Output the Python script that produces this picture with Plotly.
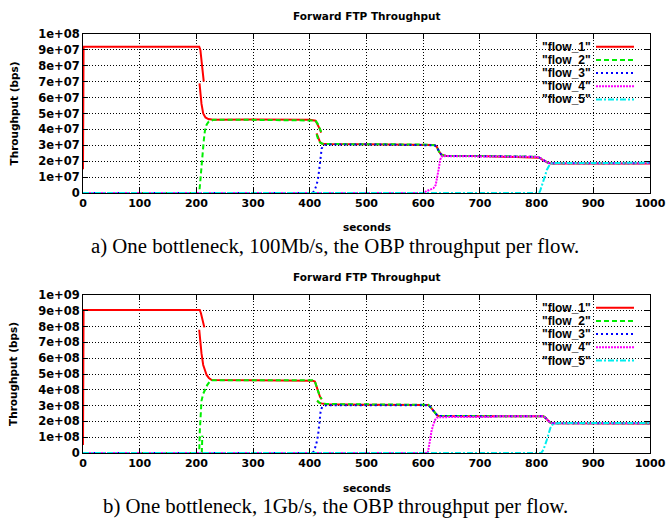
import plotly.graph_objects as go

W, H = 666, 519

# ---------------- data: (a) 100Mb/s ----------------
T1A = [0, 1, 100, 205, 207, 209, 211, 213, None, 205.5, 207, 209, 212, 216, 221, 230, 300, 400, 410, 414, 418, 420, None, 412, 415, 418, 422, 430, 500, 600, 620, 624, 628, 632, 636, 640, 700, 800, 805, 810, 815, 820, 825, 900, 960, 980, 1000]
V1A = [1.5e7, 9.2e7, 9.2e7, 9.2e7, 9.0e7, 8.2e7, 7.5e7, 7.0e7, None, 6.9e7, 6.2e7, 5.6e7, 5.0e7, 4.75e7, 4.65e7, 4.6e7, 4.62e7, 4.6e7, 4.55e7, 4.3e7, 4.0e7, 3.8e7, None, 3.75e7, 3.4e7, 3.2e7, 3.1e7, 3.08e7, 3.07e7, 3.05e7, 3.02e7, 2.9e7, 2.6e7, 2.42e7, 2.35e7, 2.33e7, 2.32e7, 2.27e7, 2.22e7, 2.1e7, 2.0e7, 1.9e7, 1.86e7, 1.85e7, 1.84e7, 1.82e7, 1.86e7]
T2A = [0, 205, 207, 209, 211, 213, 215, 218, 222, 230, 300, 400, 410, 414, 418, 420, None, 412, 415, 418, 422, 430, 500, 600, 620, 624, 628, 632, 636, 640, 700, 800, 805, 810, 815, 820, 825, 900, 1000]
V2A = [0, 0, 0.8e7, 1.8e7, 2.6e7, 3.3e7, 3.9e7, 4.3e7, 4.5e7, 4.6e7, 4.6e7, 4.6e7, 4.56e7, 4.35e7, 4.0e7, 3.85e7, None, 3.7e7, 3.35e7, 3.18e7, 3.1e7, 3.08e7, 3.08e7, 3.05e7, 3.0e7, 2.9e7, 2.6e7, 2.42e7, 2.35e7, 2.33e7, 2.33e7, 2.28e7, 2.22e7, 2.1e7, 2.0e7, 1.9e7, 1.87e7, 1.88e7, 1.88e7]
T3A = [0, 405, 408, 412, 415, 417, 419, 421, 425, 430, 500, 600, 620, 624, 628, 632, 636, 640, 700, 800, 805, 810, 815, 820, 825, 900, 1000]
V3A = [0, 0, 0.15e7, 0.5e7, 1.0e7, 1.6e7, 2.4e7, 2.8e7, 3.0e7, 3.05e7, 3.06e7, 3.04e7, 3.0e7, 2.9e7, 2.6e7, 2.42e7, 2.35e7, 2.33e7, 2.32e7, 2.28e7, 2.22e7, 2.1e7, 2.0e7, 1.9e7, 1.87e7, 1.87e7, 1.88e7]
T4A = [0, 600, 606, 612, 618, 622, 624, 627, 630, 633, 640, 700, 800, 805, 810, 815, 820, 825, 900, 1000]
V4A = [0, 0, 0.12e7, 0.2e7, 0.3e7, 0.5e7, 0.8e7, 1.45e7, 2.1e7, 2.3e7, 2.32e7, 2.3e7, 2.27e7, 2.22e7, 2.1e7, 2.0e7, 1.9e7, 1.87e7, 1.86e7, 1.87e7]
T5A = [0, 804, 806, 809, 812, 815, 818, 821, 824, 830, 900, 1000]
V5A = [0, 0, 0.1e7, 0.4e7, 0.8e7, 1.1e7, 1.45e7, 1.7e7, 1.85e7, 1.88e7, 1.88e7, 1.9e7]

# ---------------- data: (b) 1Gb/s ----------------
T1B = [0, 1, 100, 206, 208, 210, 212, 214, None, 205, 207, 209, 212, 215, 218, 222, 227, 300, 405, 409, 412, 415, 418, 421, None, 413, 416, 420, 424, 430, 500, 609, 613, 617, 621, 625, 628, 700, 800, 812, 815, 818, 821, 824, 827, 900, 1000]
V1B = [0.5e8, 9.05e8, 9.05e8, 9.05e8, 8.85e8, 8.5e8, 8.2e8, 7.95e8, None, 7.8e8, 7.0e8, 6.3e8, 5.57e8, 5.2e8, 4.94e8, 4.75e8, 4.62e8, 4.6e8, 4.58e8, 4.52e8, 4.2e8, 3.8e8, 3.55e8, 3.4e8, None, 3.3e8, 3.2e8, 3.14e8, 3.1e8, 3.08e8, 3.06e8, 3.04e8, 2.9e8, 2.7e8, 2.5e8, 2.37e8, 2.34e8, 2.34e8, 2.33e8, 2.32e8, 2.25e8, 2.12e8, 2.0e8, 1.92e8, 1.88e8, 1.87e8, 1.87e8]
T2B = [0, 205, 206, 209, 212, 215, 219, 223, 227, 300, 405, 409, 412, 415, 418, 421, None, 413, 416, 420, 424, 430, 500, 609, 613, 617, 621, 625, 628, 700, 800, 812, 815, 818, 821, 824, 827, 900, 1000, None, 209.5, 210.5]
V2B = [0, 0, 1.4e8, 3.3e8, 3.75e8, 4.0e8, 4.3e8, 4.5e8, 4.6e8, 4.6e8, 4.6e8, 4.53e8, 4.22e8, 3.82e8, 3.55e8, 3.42e8, None, 3.32e8, 3.2e8, 3.13e8, 3.1e8, 3.1e8, 3.08e8, 3.05e8, 2.9e8, 2.7e8, 2.5e8, 2.37e8, 2.34e8, 2.34e8, 2.33e8, 2.32e8, 2.25e8, 2.12e8, 2.0e8, 1.92e8, 1.88e8, 1.88e8, 1.88e8, None, 0, 1.1e8]
T3B = [0, 405, 408, 413, 415, 416, 418, 419, 421, 424, 430, 500, 609, 613, 617, 621, 625, 628, 700, 800, 812, 815, 818, 821, 824, 827, 900, 1000]
V3B = [0, 0, 0.15e8, 0.8e8, 1.25e8, 1.6e8, 2.2e8, 2.6e8, 2.85e8, 2.97e8, 3.03e8, 3.04e8, 3.03e8, 2.9e8, 2.7e8, 2.5e8, 2.37e8, 2.34e8, 2.34e8, 2.33e8, 2.32e8, 2.25e8, 2.12e8, 2.0e8, 1.92e8, 1.88e8, 1.88e8, 1.88e8]
T4B = [0, 608, 611, 615, 618, 621, 624, 627, 640, 720, 730, 800, 812, 815, 818, 821, 824, 827, 900, 1000]
V4B = [0, 0, 0.6e8, 1.46e8, 1.8e8, 2.1e8, 2.22e8, 2.27e8, 2.27e8, 2.28e8, 2.33e8, 2.33e8, 2.32e8, 2.25e8, 2.12e8, 2.0e8, 1.92e8, 1.88e8, 1.87e8, 1.88e8]
T5B = [0, 808, 812, 815, 818, 821, 824, 827, 830, 840, 900, 1000]
V5B = [0, 0, 0.2e8, 0.45e8, 0.82e8, 1.2e8, 1.56e8, 1.75e8, 1.85e8, 1.9e8, 1.9e8, 1.9e8]

FLOW_NAMES = ['"flow_1"', '"flow_2"', '"flow_3"', '"flow_4"', '"flow_5"']
X_TICKS = [0, 100, 200, 300, 400, 500, 600, 700, 800, 900, 1000]
Y_TICKS_A = [0, 1e7, 2e7, 3e7, 4e7, 5e7, 6e7, 7e7, 8e7, 9e7, 1e8]
Y_LABELS_A = ["0", "1e+07", "2e+07", "3e+07", "4e+07", "5e+07", "6e+07", "7e+07", "8e+07", "9e+07", "1e+08"]
Y_TICKS_B = [0, 1e8, 2e8, 3e8, 4e8, 5e8, 6e8, 7e8, 8e8, 9e8, 1e9]
Y_LABELS_B = ["0", "1e+08", "2e+08", "3e+08", "4e+08", "5e+08", "6e+08", "7e+08", "8e+08", "9e+08", "1e+09"]
TITLE = "Forward FTP Throughput"
X_TITLE = "seconds"
Y_TITLE = "Throughput (bps)"
CAPTION_A = "a) One bottleneck, 100Mb/s, the OBP throughput per flow."
CAPTION_B = "b) One bottleneck, 1Gb/s, the OBP throughput per flow."

# ---------------- styles ----------------
COLORS = ["#ff0000", "#00ee00", "#0000ff", "#ff00ff", "#00eeee"]
DASHES = ["solid", "5px,3px", "2px,3px", "2px,1px", "6px,2px,2px,2px"]
LW = 2
YFONT = dict(family="DejaVu Sans", size=11.5, color="black", weight="bold")
XFONT = dict(family="DejaVu Sans", size=11, color="black", weight="bold")


def px(x):
    return x / W


def py(y):
    return 1 - y / H


fig = go.Figure()

series_a = [(T1A, V1A), (T2A, V2A), (T3A, V3A), (T4A, V4A), (T5A, V5A)]
series_b = [(T1B, V1B), (T2B, V2B), (T3B, V3B), (T4B, V4B), (T5B, V5B)]
for sub, series in (("", series_a), ("2", series_b)):
    for i, (t, v) in enumerate(series):
        fig.add_trace(go.Scatter(
            x=t, y=v, mode="lines", name=FLOW_NAMES[i], showlegend=False,
            line=dict(color=COLORS[i], width=LW, dash=DASHES[i]),
            xaxis="x" + sub, yaxis="y" + sub, connectgaps=False,
            hoverinfo="skip"))

# plot area pixel geometry
L, R = 83, 650
TOP_A, BOT_A = 34, 193
TOP_B, BOT_B = 295, 453

axis_common = dict(
    showline=True, linecolor="black", linewidth=1, mirror="allticks",
    ticks="inside", ticklen=5, tickcolor="black", tickwidth=1,
    showgrid=True, gridcolor="black", gridwidth=1, griddash="1px,2px",
    zeroline=False, automargin=False,
)

fig.update_layout(
    width=W, height=H, autosize=False,
    margin=dict(l=0, r=0, t=0, b=0, pad=0),
    paper_bgcolor="white", plot_bgcolor="white",
    showlegend=False,
    xaxis=dict(axis_common, domain=[px(L), px(R)], range=[0, 1000],
               tickvals=X_TICKS, anchor="y", tickfont=XFONT),
    yaxis=dict(axis_common, domain=[py(BOT_A), py(TOP_A)], range=[0, 1e8],
               tickvals=Y_TICKS_A, ticktext=Y_LABELS_A, anchor="x", tickfont=YFONT),
    xaxis2=dict(axis_common, domain=[px(L), px(R)], range=[0, 1000],
                tickvals=X_TICKS, anchor="y2", tickfont=XFONT),
    yaxis2=dict(axis_common, domain=[py(BOT_B), py(TOP_B)], range=[0, 1e9],
                tickvals=Y_TICKS_B, ticktext=Y_LABELS_B, anchor="x2", tickfont=YFONT),
)

ann = []
shapes = []
title_font = dict(family="DejaVu Sans", size=10.5, color="black", weight="bold")
cap_font = dict(family="Liberation Serif", size=20.8, color="black")
legend_font = dict(family="Liberation Sans", size=12, color="black", weight="bold")

for off, top, bot, cap, cap_y in ((0, TOP_A, BOT_A, CAPTION_A, 246), (261, TOP_B, BOT_B, CAPTION_B, 506)):
    ann.append(dict(text=TITLE, x=px((L + R) / 2), y=py(15.5 + off), xref="paper", yref="paper",
                    showarrow=False, font=title_font, xanchor="center", yanchor="middle"))
    ann.append(dict(text=X_TITLE, x=px(367), y=py(226.5 + off), xref="paper", yref="paper",
                    showarrow=False, font=title_font, xanchor="center", yanchor="middle"))
    ann.append(dict(text=Y_TITLE, x=px(13), y=py((top + bot) / 2), xref="paper", yref="paper",
                    showarrow=False, font=title_font, textangle=-90, xanchor="center", yanchor="middle"))
    ann.append(dict(text=cap, x=px(335), y=py(cap_y), xref="paper", yref="paper",
                    showarrow=False, font=cap_font, xanchor="center", yanchor="middle"))
    # legend box (blank background, hides grid)
    shapes.append(dict(type="rect", xref="paper", yref="paper", layer="between",
                       x0=px(530), x1=px(644), y0=py(37 + off), y1=py(107 + off),
                       fillcolor="white", line=dict(width=0)))
    for i, name in enumerate(FLOW_NAMES):
        ry = 46.7 + 13.2 * i + off
        ann.append(dict(text=name, x=px(592), y=py(ry), xref="paper", yref="paper",
                        showarrow=False, font=legend_font, xanchor="right", yanchor="middle",
                        borderpad=0))
        shapes.append(dict(type="line", xref="paper", yref="paper", layer="above",
                           x0=px(596), x1=px(634), y0=py(ry), y1=py(ry),
                           line=dict(color=COLORS[i], width=LW, dash=DASHES[i])))

fig.update_layout(annotations=ann, shapes=shapes)
fig.write_html("out.html")
